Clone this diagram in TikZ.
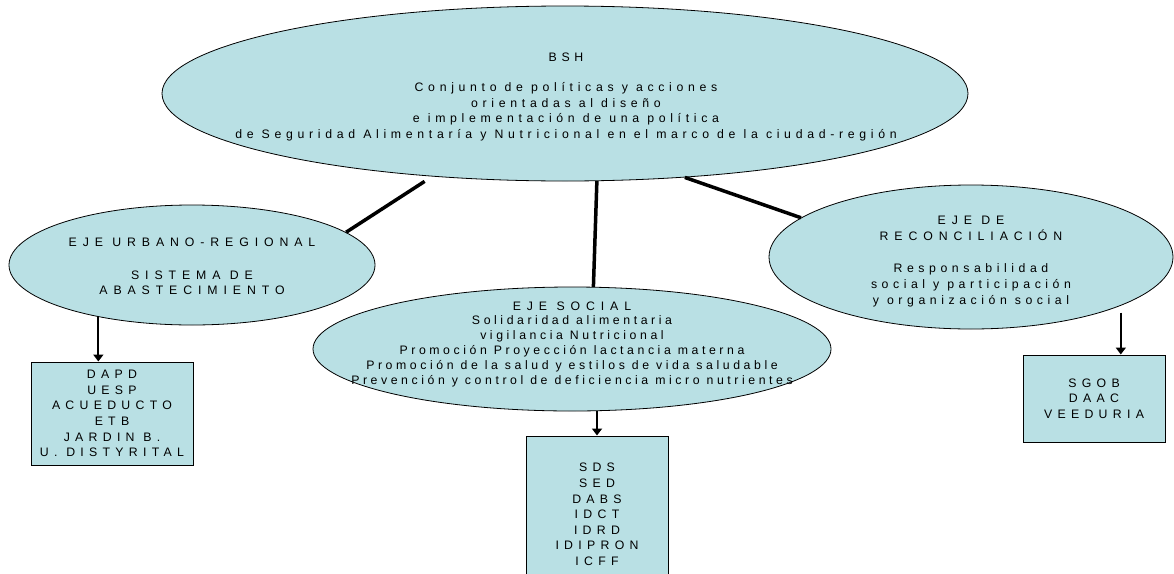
\documentclass[tikz,border=0pt]{standalone}
\usepackage{fontspec}
\setmainfont{Liberation Sans}
\newfontfamily\bshsp[LetterSpace=38]{Liberation Sans}
\newfontfamily\socsp[LetterSpace=29]{Liberation Sans}
\newfontfamily\recsp[LetterSpace=37]{Liberation Sans}
\newfontfamily\boxsp[LetterSpace=43]{Liberation Sans}
\newfontfamily\capsp[LetterSpace=48]{Liberation Sans}
\usepackage{tikz}
\usetikzlibrary{arrows.meta,positioning,shapes.geometric}
\definecolor{ejefill}{RGB}{185,224,228}

\begin{document}
\begin{tikzpicture}[
    x=1pt, y=-1pt,
    node distance=150pt,
    >={Triangle[length=7pt,width=10pt]},
    eje/.style={
		ellipse,
		draw=black,
		fill=ejefill,
		inner sep=0pt,
		line width=0.8pt
	},
	ejetext/.style={
		align=center,
		inner sep=0pt
	},
	entbox/.style={
		rectangle,
		draw=black,
		fill=ejefill,
		minimum width=142pt,
		align=center,
		line width=1pt,
		font=\boxsp\fontsize{12.3}{15.6}\selectfont
	},
	link/.style={
		line width=3.5pt
	},
	flow/.style={
		->,
		line width=2pt
	}
  ]

\useasboundingbox (0,0) rectangle (1174,573);

% // the four ellipses
\node [eje, minimum width=806pt, minimum height=175pt] (bsh) at (565,93.5) {};
\node [eje, minimum width=366pt, minimum height=120pt] (urbano) at (192,265) {};
\node [eje, minimum width=518pt, minimum height=124pt] (social) at (572,349) {};
\node [eje, minimum width=404pt, minimum height=144pt] (reconc) at (971,257) {};

\node [ejetext, xshift=1pt, yshift=-3.5pt, font=\bshsp\fontsize{12.3}{15.5}\selectfont] (bshtxt) at (bsh.center)
 {%
  BSH\\[14.5pt]
  Conjunto de políticas y  acciones\\
  orientadas al diseño\\
  e implementación de una política\\
  de Seguridad Alimentaría y Nutricional en el marco de la  ciudad-región
 };

\node [ejetext, yshift=-1.5pt, font=\capsp\fontsize{12.3}{14.5}\selectfont] (urbanotxt) at (urbano.center)
 {%
  EJE URBANO-REGIONAL\\[18.5pt]
  SISTEMA DE\\
  ABASTECIMIENTO
 };

\node [ejetext, yshift=5pt, font=\socsp\fontsize{12.3}{14.8}\selectfont] (socialtxt) at (social.center)
 {%
  {\capsp EJE SOCIAL}\\
  Solidaridad alimentaria\\
  vigilancia Nutricional\\
  Promoción Proyección lactancia materna\\
  Promoción de la salud y estilos de vida saludable\\
  Prevención y control de deficiencia micro nutrientes
 };

\node [ejetext, yshift=-5pt, font=\recsp\fontsize{12.3}{16}\selectfont] (reconctxt) at (reconc.center)
 {%
  {\capsp EJE DE}\\
  {\capsp RECONCILIACIÓN}\\[16pt]
  Responsabilidad\\
  social y participación\\
  y organización social
 };

% // the boxes
\node [entbox, below of=urbano, xshift=-80pt, yshift=1.5pt, minimum width=162pt, minimum height=103pt] (ent1)
 {DAPD\\UESP\\ACUEDUCTO\\ETB\\JARDIN B.\\U. DISTYRITAL};
\node [entbox, below of=social, xshift=25pt, yshift=-15.5pt, minimum height=157pt] (ent2)
 {SDS\\SED\\DABS\\IDCT\\IDRD\\IDIPRON\\ICFF};
\node [entbox, below of=reconc, xshift=123pt, yshift=8.5pt, minimum height=87pt] (ent3)
 {SGOB\\DAAC\\VEEDURIA};

% // connectors
\draw [link, shorten <=9pt] (bsh.212.2) -- (urbano.12.7);
\draw [link] (bsh.290.1) -- (social.71.3);
\draw [link] (bsh.325.6) -- (reconc.167.3);

\draw [flow] (urbano.209.7) -- (urbano.209.7 |- ent1.north);
\draw [flow] (social.south -| ent2.north) -- (ent2.north);
\draw [flow, shorten <=7pt] (reconc.342.9) -- (reconc.342.9 |- ent3.north);

\end{tikzpicture}
\end{document}
